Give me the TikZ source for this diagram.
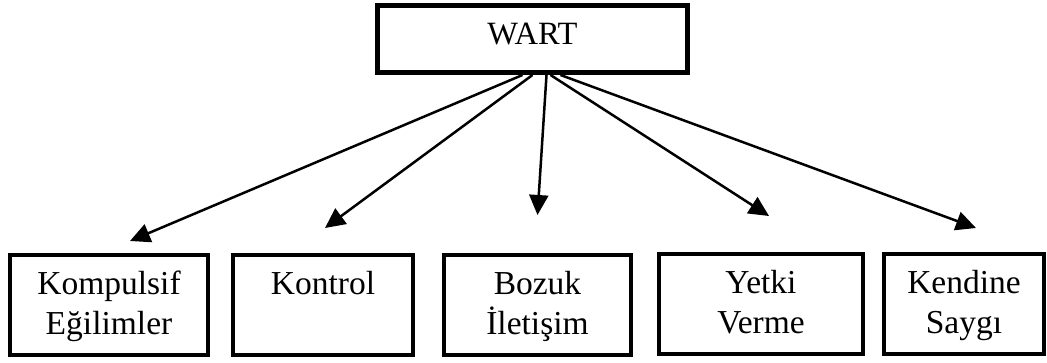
\documentclass[tikz,border=0pt]{standalone}
\usepackage{fontspec}
\setmainfont{Liberation Serif}
\usetikzlibrary{arrows.meta}
\tikzstyle{ana} = [draw, line width=5pt, minimum width=310pt, minimum height=67pt, text depth=10pt, font=\fontsize{32.5}{40}\selectfont]
\tikzstyle{alt} = [draw, line width=4pt, minimum height=100pt, inner sep=0pt, align=center, text height=66pt, text depth=6pt, font=\fontsize{33.5}{40}\selectfont]
\tikzstyle{ok} = [line width=2.5pt, -{Triangle[length=20pt,width=19pt]}]

\begin{document}
\begin{tikzpicture}[x=1pt, y=1pt]
	\useasboundingbox (0,0) rectangle (1047,363);
	\node[ana] (wart) at (532.5,324) {WART};
	\node[alt, minimum width=198pt] (komp) at (109,58) {Kompulsif\\Eğilimler};
	\node[alt, minimum width=180pt] (kont) at (323,58) {Kontrol\\\mbox{}};
	\node[alt, minimum width=187pt] (bozuk) at (537.5,58) {Bozuk\\İletişim};
	\node[alt, minimum width=204pt] (yetki) at (761,59) {Yetki\\Verme};
	\node[alt, minimum width=160pt] (kendine) at (964,59) {Kendine\\Saygı};
	\draw[ok] ([xshift=-10pt]wart.south) -- ([xshift=21pt, yshift=12pt]komp.north);
	\draw[ok] ([xshift=0pt]wart.south) -- ([xshift=2pt, yshift=25pt]kont.north);
	\draw[ok] ([xshift=14pt]wart.south) -- ([xshift=0pt, yshift=38pt]bozuk.north);
	\draw[ok] ([xshift=18pt]wart.south) -- ([xshift=8pt, yshift=36pt]yetki.north);
	\draw[ok] ([xshift=28pt]wart.south) -- ([xshift=12pt, yshift=24pt]kendine.north);
\end{tikzpicture}
\end{document}
